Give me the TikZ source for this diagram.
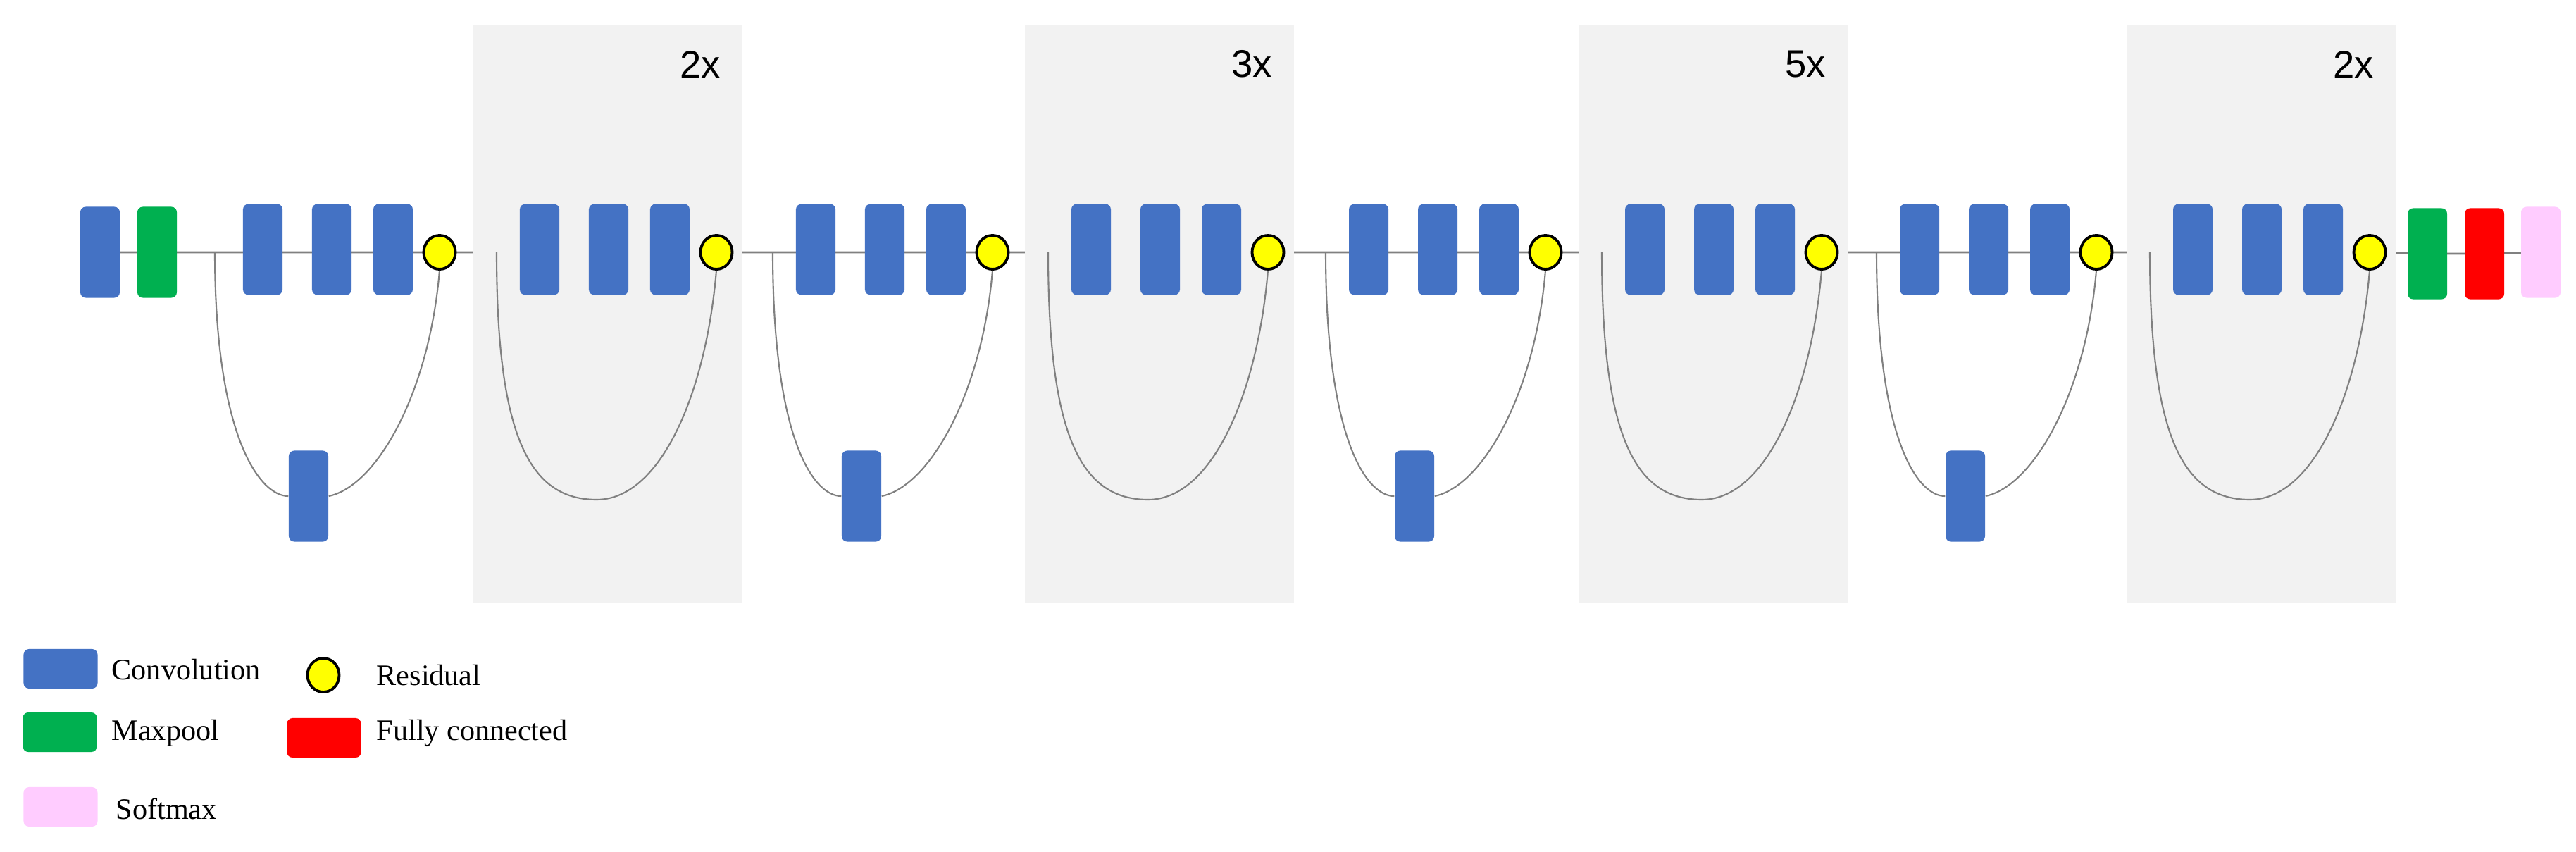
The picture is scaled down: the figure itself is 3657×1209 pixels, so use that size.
\documentclass[tikz,border=0pt]{standalone}
\usepackage{fontspec}
\setmainfont{Liberation Serif}
\newfontfamily\labfont{Liberation Sans}
\usetikzlibrary{shapes.geometric,backgrounds}
\definecolor{cblue}{HTML}{4472C4}
\definecolor{cgreen}{HTML}{00B050}
\definecolor{cred}{HTML}{FF0000}
\definecolor{cpink}{HTML}{FFCCFF}
\definecolor{cyel}{HTML}{FFFF00}
\definecolor{cpanel}{HTML}{F2F2F2}
\definecolor{cline}{HTML}{808080}
\begin{document}
\begin{tikzpicture}[x=0.01cm,y=-0.01cm,
  layer/.style={draw=none,rounded corners=2.2pt,minimum width=0.56cm,minimum height=1.29cm,inner sep=0pt},
  conv/.style={layer,fill=cblue},
  pool/.style={layer,fill=cgreen},
  fc/.style={layer,fill=cred},
  soft/.style={layer,fill=cpink},
  res/.style={ellipse,draw=black,line width=1.1pt,fill=cyel,minimum width=0.45cm,minimum height=0.48cm,inner sep=0pt},
  mainline/.style={draw=cline,line width=0.85pt},
  skip/.style={draw=cline,line width=0.6pt},
  panel/.style={fill=cpanel,draw=none},
  legbox/.style={draw=none,rounded corners=2.2pt,minimum width=1.05cm,minimum height=0.56cm,inner sep=0pt},
  legtext/.style={anchor=west,font=\fontsize{12}{14}\selectfont,inner sep=0pt},
  reptext/.style={font=\labfont\fontsize{15.5}{17}\selectfont,inner sep=0pt}]
\useasboundingbox (0,0) rectangle (3657,1209);
% panels
\foreach \c/\t [count=\i] in {1017/2x,1800/3x,2586/5x,3364/2x}{
  \fill[panel] (\c-345,35) rectangle (\c+37,856);
  \node[reptext] (rep\i) at (\c-23,91) {\t};
}
% input and maxpool
\node[conv] (in) at (142,358) {};
\node[pool] (mp) at (223,358) {};
% residual blocks
\foreach \c/\b/\d [count=\k] in {624/319/1,1017/312/0,1409/312/1,1800/312/0,2194/312/1,2586/312/0,2976/312/1,3364/312/0}{
  \node[conv] (ca\k) at (\c-251,354) {};
  \node[conv] (cb\k) at (\c-153,354) {};
  \node[conv] (cc\k) at (\c-66,354) {};
  \node[res] (r\k) at (\c,358) {};
  \coordinate (br\k) at (\c-\b,358);
  \ifnum\d=1
    \node[conv] (ds\k) at (\c-186,704) {};
    \draw[skip] (br\k) .. controls (\c-\b,620) and (\c-255,704) .. (ds\k.west);
    \draw[skip] (ds\k.east) .. controls (\c-90,690) and (\c-15,560) .. (r\k.south);
  \else
    \coordinate (bt\k) at (\c-170,709);
    \draw[skip] (br\k) .. controls (\c-\b,620) and (\c-265,709) .. (bt\k);
    \draw[skip] (bt\k) .. controls (\c-80,709) and (\c-15,560) .. (r\k.south);
  \fi
}
\node[pool] (mp2) at (3446,360) {};
\node[fc] (fc) at (3527,360) {};
\node[soft] (sm) at (3607,358) {};
\begin{scope}[on background layer]
  \foreach \c in {1017,1800,2586,3364}{\fill[panel] (\c-345,35) rectangle (\c+37,856);}
  \draw[mainline] (in.center) -- (mp.center) -- (r1.center) -- (r2.center) -- (r3.center) -- (r4.center) -- (r5.center) -- (r6.center) -- (r7.center) -- (r8.center) -- (mp2.center) -- (fc.center) -- (sm.center);
\end{scope}
% legend
\node[legbox,fill=cblue] (lconv) at (86,949) {};
\node[legtext] (tconv) at (158,950) {Convolution};
\node[res] (lres) at (459,958) {};
\node[legtext] (tres) at (534,958) {Residual};
\node[legbox,fill=cgreen] (lpool) at (85,1039) {};
\node[legtext] (tpool) at (158,1040) {Maxpool};
\node[legbox,fill=cred] (lfc) at (460,1047) {};
\node[legtext] (tfc) at (534,1040) {Fully connected};
\node[legbox,fill=cpink] (lsm) at (86,1145) {};
\node[legtext] (tsm) at (164,1148) {Softmax};
\end{tikzpicture}
\end{document}
